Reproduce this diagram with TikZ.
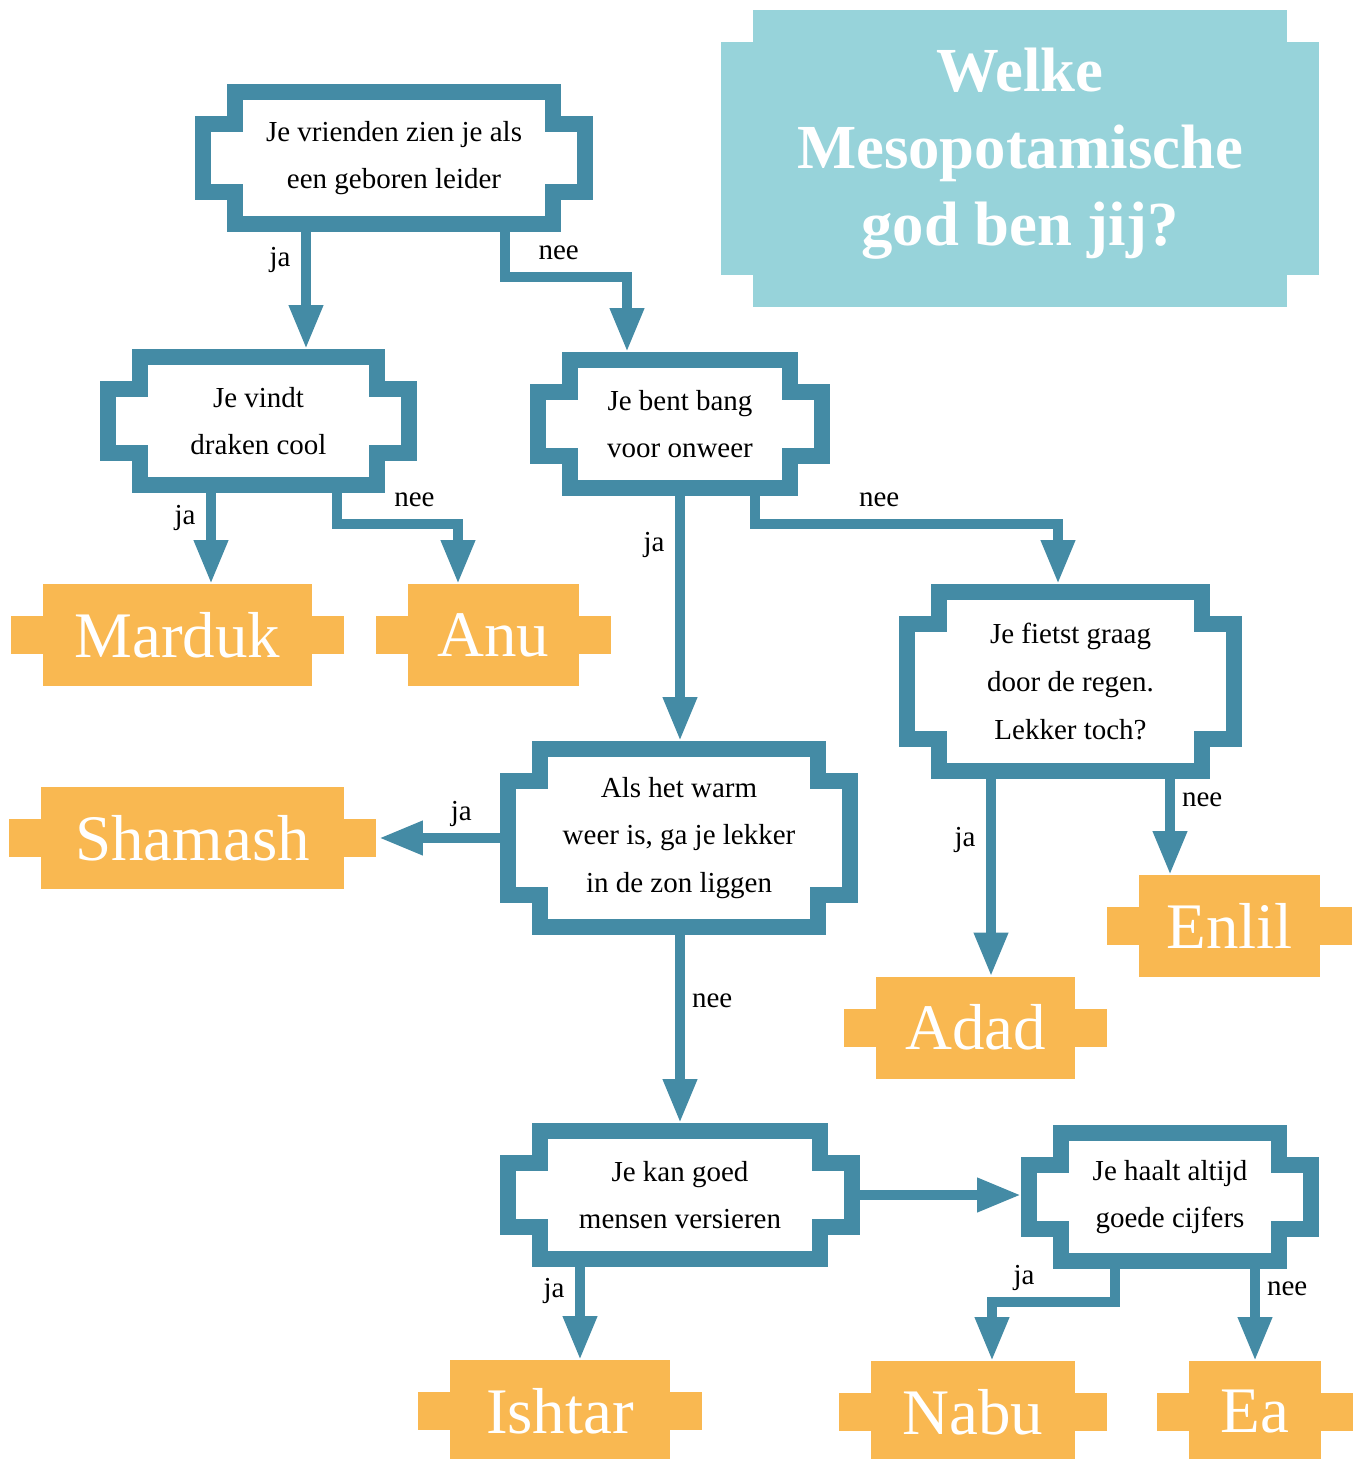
\documentclass[tikz,border=0pt]{standalone}
\usepackage{fontspec}
\setmainfont{Liberation Serif}
\usepackage{tikz}
\usetikzlibrary{arrows.meta}
\definecolor{qblue}{HTML}{448BA5}
\definecolor{godorange}{HTML}{F9B851}
\definecolor{titleblue}{HTML}{97D3DA}

\begin{document}
\begin{tikzpicture}[x=0.02cm,y=-0.02cm,line join=miter]
		\tikzstyle{qbox}=[rectangle,outer sep=0pt,inner sep=0pt,align=center,font=\fontsize{16.5}{27.2}\selectfont]
		\tikzstyle{godbox}=[rectangle,fill=godorange,text=white,outer sep=0pt,inner sep=0pt,minimum height=2.04cm,font=\fontsize{37}{40}\selectfont]
		\tikzstyle{qframe}=[draw=qblue,line width=0.32cm]
		\tikzstyle{flow}=[draw=qblue,line width=0.2cm,-{Triangle[length=0.88cm,width=0.64cm]}]
		\tikzstyle{answer}=[inner sep=0pt,font=\fontsize{16.5}{20}\selectfont]
		\tikzstyle{answerup}=[answer,anchor=base,yshift=10pt]

		\useasboundingbox (0,0) rectangle (1360,1459);

		% titel
		\node[rectangle,fill=titleblue,text=white,outer sep=0pt,inner sep=0pt,minimum width=10.68cm,minimum height=5.94cm,align=center,text depth=13.5pt,font=\bfseries\fontsize{35.7}{43.6}\selectfont] (title) at (1020,158.5) {Welke\\Mesopotamische\\god ben jij?};
		\fill[titleblue] ([xshift=-0.64cm,yshift=-2.33cm]title.west) rectangle ([xshift=0.02cm,yshift=2.33cm]title.west);
		\fill[titleblue] ([xshift=-0.02cm,yshift=-2.33cm]title.east) rectangle ([xshift=0.64cm,yshift=2.33cm]title.east);

		% vragen
		\node[qbox,minimum width=7.96cm,minimum height=2.96cm] (vrienden) at (394,158) {Je vrienden zien je als\\een geboren leider};
		\node[qbox,minimum width=6.34cm,minimum height=2.88cm] (draken) at (258.5,421) {Je vindt\\draken cool};
		\node[qbox,minimum width=6.0cm,minimum height=2.88cm] (onweer) at (680,424) {Je bent bang\\voor onweer};
		\node[qbox,minimum width=7.16cm,minimum height=3.88cm] (zon) at (679,838) {Als het warm\\weer is, ga je lekker\\in de zon liggen};
		\node[qbox,minimum width=6.86cm,minimum height=3.9cm] (regen) at (1070.5,681.5) {Je fietst graag\\door de regen.\\Lekker toch?};
		\node[qbox,minimum width=7.2cm,minimum height=2.88cm] (versieren) at (680,1195) {Je kan goed\\mensen versieren};
		\node[qbox,minimum width=5.96cm,minimum height=2.88cm] (cijfers) at (1170,1197) {Je haalt altijd\\goede cijfers};

		\foreach \n in {vrienden,draken,onweer,zon,regen,versieren,cijfers}
			\draw[qframe] ([xshift=0.8cm,yshift=-0.16cm]\n.north west) -- ([xshift=-0.8cm,yshift=-0.16cm]\n.north east)
				-- ([xshift=-0.8cm,yshift=-0.8cm]\n.north east) -- ([xshift=-0.16cm,yshift=-0.8cm]\n.north east)
				-- ([xshift=-0.16cm,yshift=0.8cm]\n.south east) -- ([xshift=-0.8cm,yshift=0.8cm]\n.south east)
				-- ([xshift=-0.8cm,yshift=0.16cm]\n.south east) -- ([xshift=0.8cm,yshift=0.16cm]\n.south west)
				-- ([xshift=0.8cm,yshift=0.8cm]\n.south west) -- ([xshift=0.16cm,yshift=0.8cm]\n.south west)
				-- ([xshift=0.16cm,yshift=-0.8cm]\n.north west) -- ([xshift=0.8cm,yshift=-0.8cm]\n.north west) -- cycle;

		% goden
		\node[godbox,minimum width=5.38cm] (marduk) at (177.5,635) {Marduk};
		\node[godbox,minimum width=3.42cm] (anu) at (493.5,635) {Anu};
		\node[godbox,minimum width=6.06cm] (shamash) at (192.5,838) {Shamash};
		\node[godbox,minimum width=3.62cm] (enlil) at (1229.5,926) {Enlil};
		\node[godbox,minimum width=3.98cm] (adad) at (975.5,1027.5) {Adad};
		\node[godbox,minimum width=4.4cm] (ishtar) at (560,1411) {Ishtar};
		\node[godbox,minimum width=4.08cm] (nabu) at (973,1412) {Nabu};
		\node[godbox,minimum width=2.63cm] (ea) at (1255,1412) {Ea};

		\foreach \n in {marduk,anu,shamash,enlil,adad,ishtar,nabu,ea} {
			\fill[godorange] ([xshift=-0.64cm,yshift=-0.38cm]\n.west) rectangle ([xshift=0.02cm,yshift=0.38cm]\n.west);
			\fill[godorange] ([xshift=-0.02cm,yshift=-0.38cm]\n.east) rectangle ([xshift=0.64cm,yshift=0.38cm]\n.east);
		}

		% pijlen
		\draw[flow] (vrienden.south -| 306,0) -- node[answer,left=6pt,pos=0.24] (ja1) {ja} (draken.north -| 306,0);
		\draw[flow] (vrienden.south -| 505,0) -- (505,277) -- node[answerup,pos=0.44] (nee1) {nee} (627,277) -- (onweer.north -| 627,0);
		\draw[flow] (draken.south -| 211,0) -- node[answer,left=6pt,pos=0.27] (ja2) {ja} (marduk.north -| 211,0);
		\draw[flow] (draken.south -| 337,0) -- (337,524) -- node[answerup,pos=0.64] (nee2) {nee} (458,524) -- (anu.north -| 458,0);
		\draw[flow] (onweer.south -| 680,0) -- node[answer,left=6pt,pos=0.2] (ja3) {ja} (zon.north -| 680,0);
		\draw[flow] (onweer.south -| 755,0) -- (755,524) -- node[answerup,pos=0.41] (nee3) {nee} (1058,524) -- (regen.north -| 1058,0);
		\draw[flow] (zon.west) -- node[answerup,pos=0.32] (ja4) {ja} ([xshift=0.7cm]shamash.east);
		\draw[flow] (zon.south -| 680,0) -- node[answer,right=4pt,pos=0.35] (nee4) {nee} (versieren.north -| 680,0);
		\draw[flow] (regen.south -| 991,0) -- node[answer,left=6pt,pos=0.31] (ja5) {ja} (adad.north -| 991,0);
		\draw[flow] (regen.south -| 1170,0) -- node[answer,right=4pt,pos=0.22] (nee5) {nee} (enlil.north -| 1170,0);
		\draw[flow] (versieren.east) -- (versieren.east -| cijfers.west);
		\draw[flow] (versieren.south -| 580,0) -- node[answer,left=6pt,pos=0.26] (ja6) {ja} (ishtar.north -| 580,0);
		\draw[flow] (cijfers.south -| 1115,0) -- (1115,1302) -- node[answerup,pos=0.74] (ja7) {ja} (992,1302) -- (nabu.north -| 992,0);
		\draw[flow] (cijfers.south -| 1255,0) -- node[answer,right=4pt,pos=0.21] (nee6) {nee} (ea.north -| 1255,0);

	\end{tikzpicture}
\end{document}
